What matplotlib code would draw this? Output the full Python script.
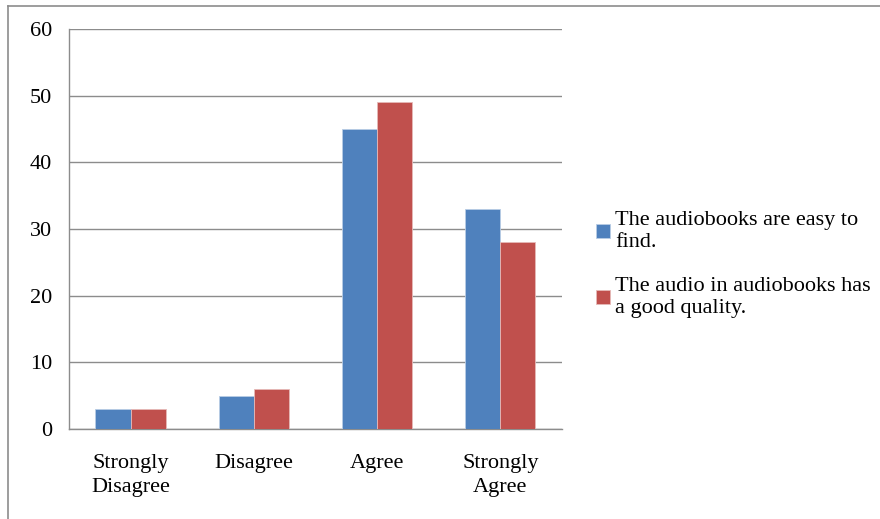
import numpy as np
import matplotlib.pyplot as plt
from matplotlib.lines import Line2D

categories = ['Strongly\nDisagree', 'Disagree', 'Agree', 'Strongly\nAgree']
easy_to_find = [3, 5, 45, 33]
good_quality = [3, 6, 49, 28]
labels = ['The audiobooks are easy to\nfind.',
          'The audio in audiobooks has\na good quality.']

plt.rcParams['font.family'] = ['Liberation Serif', 'DejaVu Serif']

fig = plt.figure(figsize=(8.8, 5.19), dpi=100)
ax = fig.add_axes([0.0784, 0.1734, 0.5602, 0.7707])

x = np.arange(len(categories))
w = 0.285
b1 = ax.bar(x - w / 2, easy_to_find, w, color='#4f81bd', edgecolor='#b9cde5', linewidth=0.6,
            label=labels[0], zorder=3)
b2 = ax.bar(x + w / 2, good_quality, w, color='#c0504d', edgecolor='#e6b9b8', linewidth=0.6,
            label=labels[1], zorder=3)

ax.set_xlim(-0.5, 3.5)
ax.set_ylim(0, 60)
ax.set_yticks(range(0, 61, 10))
ax.set_xticks(x)
ax.set_xticklabels(categories, fontsize=16, linespacing=1.35)
ax.tick_params(axis='y', labelsize=16, length=0, pad=12)
ax.tick_params(axis='x', length=0, pad=18)
ax.yaxis.grid(True, color='#8c8c8c', linewidth=1.0, zorder=0)
for s in ['top', 'right']:
    ax.spines[s].set_visible(False)
for s in ['left', 'bottom']:
    ax.spines[s].set_color('#8c8c8c')
    ax.spines[s].set_linewidth(1.0)

leg = fig.legend(handles=[b1, b2], loc='center left', bbox_to_anchor=(0.655, 0.49),
                 frameon=False, fontsize=16, handlelength=0.6, handleheight=0.6,
                 handletextpad=0.25, labelspacing=1.15)
for t in leg.get_texts():
    t.set_linespacing(1.2)

# outer chart border (only top and left visible in reference)
fig.add_artist(Line2D([8 / 880, 1], [1 - 6 / 519, 1 - 6 / 519], transform=fig.transFigure,
                      color='#8c8c8c', linewidth=1.2))
fig.add_artist(Line2D([8 / 880, 8 / 880], [0, 1 - 6 / 519], transform=fig.transFigure,
                      color='#8c8c8c', linewidth=1.2))

fig.savefig('out.png', dpi=100)
